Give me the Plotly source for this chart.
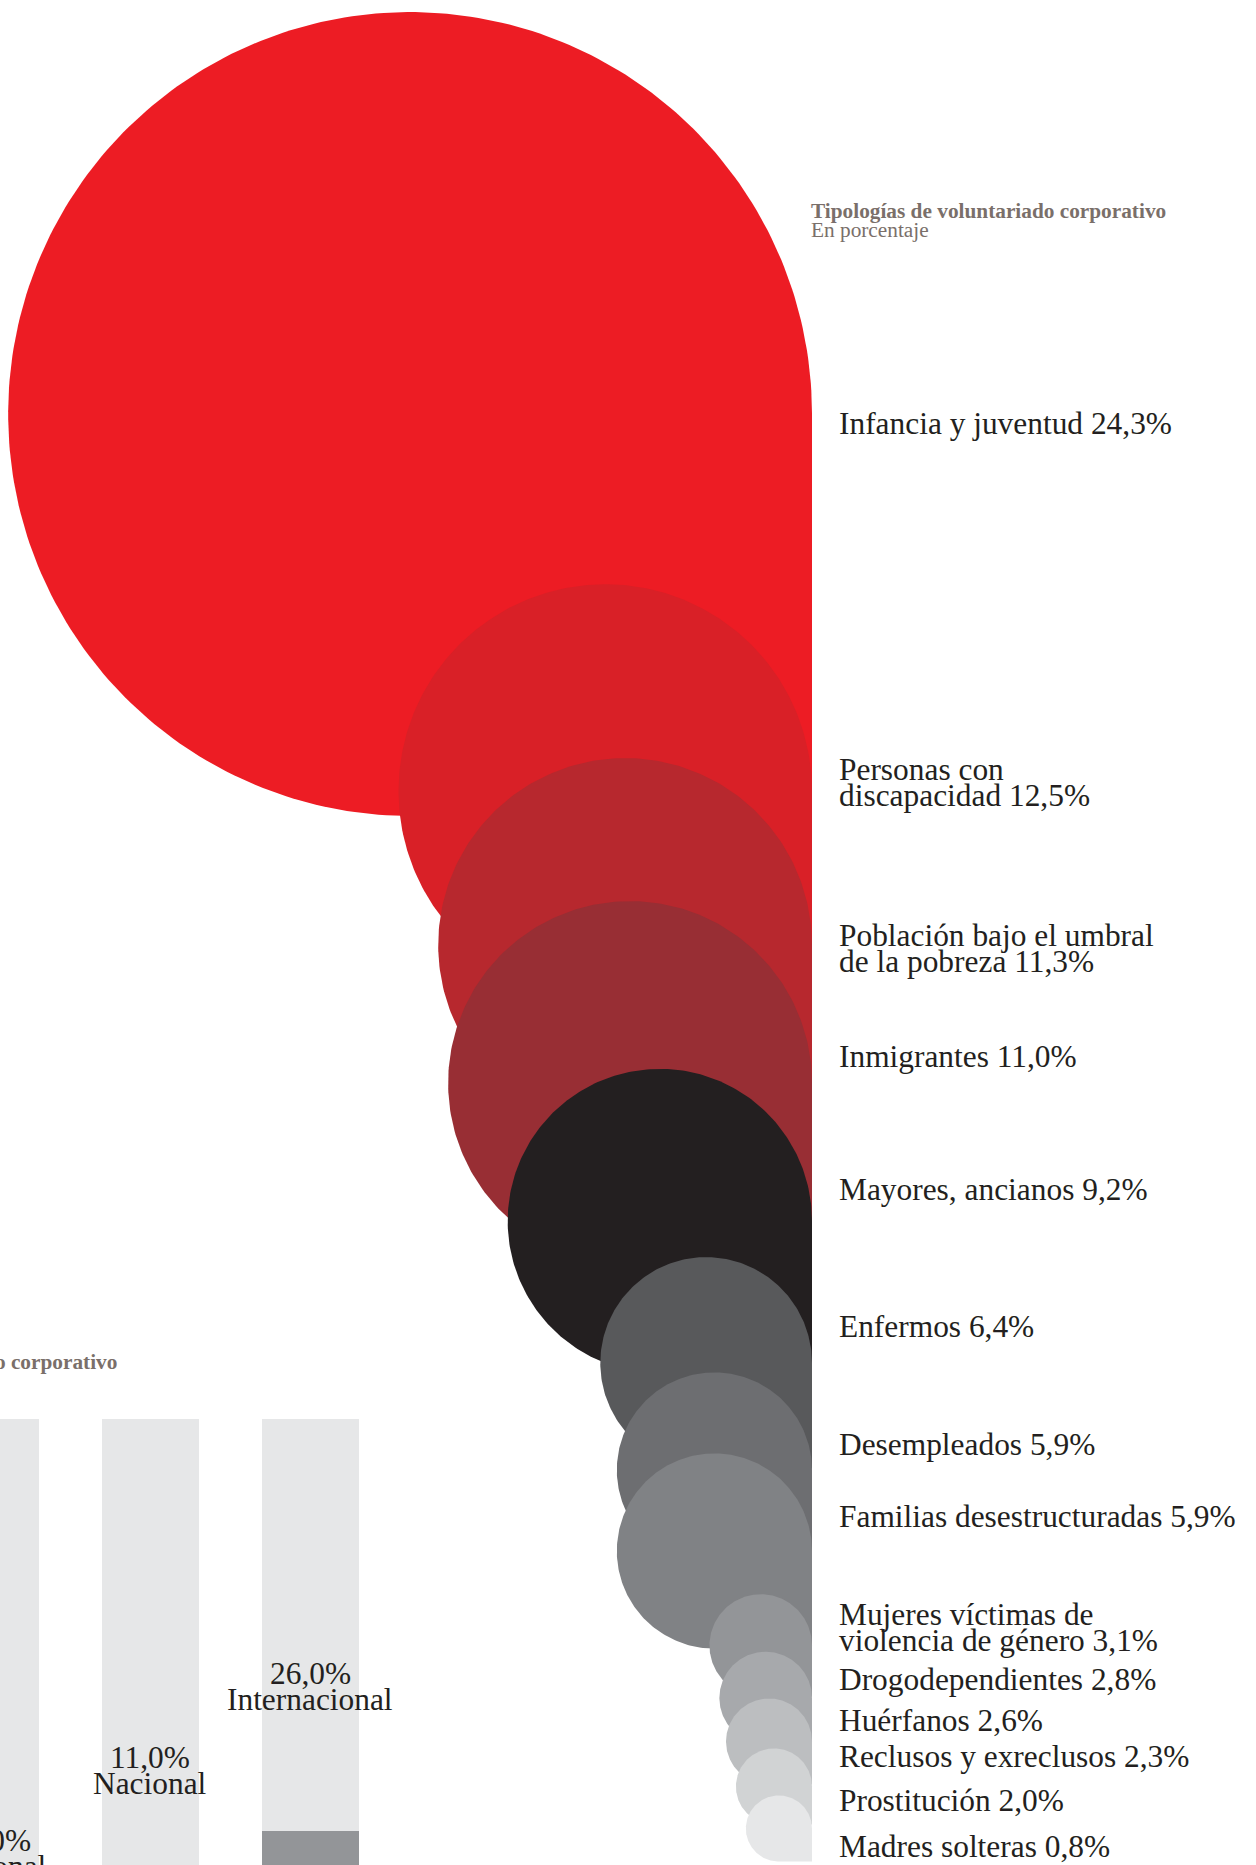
import numpy as np
import plotly.graph_objects as go

W, H = 1256, 1865
FONT = "Liberation Serif"
INK = "#231f20"
TITLE_INK = "#7a6f6a"

# ---- Tipologías de voluntariado corporativo (en porcentaje) ----
categories = [
    "Infancia y juventud",
    "Personas con|discapacidad",
    "Población bajo el umbral|de la pobreza",
    "Inmigrantes",
    "Mayores, ancianos",
    "Enfermos",
    "Desempleados",
    "Familias desestructuradas",
    "Mujeres víctimas de|violencia de género",
    "Drogodependientes",
    "Huérfanos",
    "Reclusos y exreclusos",
    "Prostitución",
    "Madres solteras",
]
shares = [24.3, 12.5, 11.3, 11.0, 9.2, 6.4, 5.9, 5.9, 3.1, 2.8, 2.6, 2.3, 2.0, 0.8]
colors = [
    "#ed1c24", "#d92027", "#b7282e", "#982e34", "#231f20", "#58595b", "#6d6e71",
    "#808285", "#939598", "#a7a9ac", "#bcbec0", "#d1d3d4", "#e6e7e8", "#e6e7e8",
]

# ---- Ámbito del voluntariado corporativo ----
scope_cats = ["Regional", "Nacional", "Internacional"]
scope_vals = [10.0, 11.0, 26.0]
scope_total = [100, 100, 100]

# ---- placement (pixels from the top of the page) ----
PX = 16.54                 # pixels per percentage point on the bubble axes
EDGE_PX = 812              # common right edge of the bubbles
LABEL_X_PX = 837
TEXT_PAD_PX = 3            # annotation box padding to compensate
bubble_y = [414, 791, 945, 1083, 1221, 1363, 1470, 1551, 1645.5, 1698, 1741.5,
            1786.5, 1828.5, 1845]
label_y = [423, 782, 948, 1056, 1189, 1326, 1444, 1516, 1627, 1679, 1720, 1756,
           1800, 1846]
LINE_PX = 26

# bar panel geometry
BAR_TOP_PX = 1419
BAR_PITCH = 160
BAR_W_PX = 97
SCOPE_X0 = 0.0594          # category index at the left page edge
SCOPE_PANEL_PX = 500
scope_label_y = [1840, 1757, 1673]


def pct(v):
    return f"{v:.1f}".replace(".", ",") + "%"


fig = go.Figure()

# bubbles: a circle whose lower-right quadrant is squared off, flush right
right = EDGE_PX / PX
theta = np.linspace(0, 1.5 * np.pi, 240)
for name, v, col, yc in zip(categories, shares, colors, bubble_y):
    cy = yc / PX
    cx = right - v
    xs = list(cx + v * np.cos(theta)) + [cx + v, cx + v]
    ys = list(cy - v * np.sin(theta)) + [cy + v, cy]
    fig.add_trace(go.Scatter(
        x=xs, y=ys, mode="lines", fill="toself", fillcolor=col,
        line=dict(width=0, color=col), hoverinfo="skip", showlegend=False,
        name=name.replace("|", " "), xaxis="x", yaxis="y",
    ))

annotations = []
for name, v, ly in zip(categories, shares, label_y):
    lines = name.split("|")
    lines[-1] = f"{lines[-1]} {pct(v)}"
    n = len(lines)
    for i, ln in enumerate(lines):
        annotations.append(dict(
            xref="x", yref="y", x=LABEL_X_PX / PX,
            y=(ly + (i - (n - 1) / 2) * LINE_PX) / PX,
            text=ln, showarrow=False, xanchor="left", yanchor="middle",
            font=dict(family=FONT, size=31.4, color=INK),
        ))

# chart title, aligned on the bubbles' right edge
title_x = (EDGE_PX - TEXT_PAD_PX) / PX
annotations += [
    dict(xref="x", yref="y", x=title_x, y=211 / PX, text="<b>Tipologías de voluntariado corporativo</b>",
         showarrow=False, xanchor="left", yanchor="middle",
         font=dict(family=FONT, size=21.3, color=TITLE_INK)),
    dict(xref="x", yref="y", x=title_x, y=230 / PX, text="En porcentaje",
         showarrow=False, xanchor="left", yanchor="middle",
         font=dict(family=FONT, size=21.3, color=TITLE_INK)),
]

# ---- bar panel (partly off the page on the left and bottom) ----
bar_width = BAR_W_PX / BAR_PITCH
fig.add_trace(go.Bar(
    x=scope_cats, y=scope_total, width=bar_width, marker=dict(color="#e6e7e8", line=dict(width=0)),
    hoverinfo="skip", showlegend=False, xaxis="x2", yaxis="y2",
))
fig.add_trace(go.Bar(
    x=scope_cats, y=scope_vals, width=bar_width, marker=dict(color="#939598", line=dict(width=0)),
    hoverinfo="skip", showlegend=False, xaxis="x2", yaxis="y2",
))

# value axis: 100 % at the top of the columns, 26 % where the dark fill starts
px_per_pt = (1831 - BAR_TOP_PX) / (100 - 26)
y2_bottom = 26 - (H - 1831) / px_per_pt

for i, (cat, v, ly) in enumerate(zip(scope_cats, scope_vals, scope_label_y)):
    xp = (i - SCOPE_X0) * BAR_PITCH / W
    for j, ln in enumerate([pct(v), cat]):
        annotations.append(dict(
            xref="paper", yref="paper", x=xp, y=1 - (ly + j * LINE_PX) / H,
            text=ln, showarrow=False, xanchor="center", yanchor="middle",
            font=dict(family=FONT, size=31.4, color=INK),
        ))

annotations.append(dict(
    xref="paper", yref="paper", x=(116 + TEXT_PAD_PX) / W, y=1 - 1362 / H,
    text="<b>Ámbito geográfico del voluntariado corporativo</b>",
    showarrow=False, xanchor="right", yanchor="middle",
    font=dict(family=FONT, size=21.3, color=TITLE_INK),
))

fig.update_layout(
    width=W, height=H, autosize=False,
    margin=dict(l=0, r=0, t=0, b=0, pad=0),
    paper_bgcolor="white", plot_bgcolor="rgba(0,0,0,0)",
    hovermode=False, showlegend=False, barmode="overlay",
    xaxis=dict(range=[0, W / PX], domain=[0, 1], visible=False, fixedrange=True),
    yaxis=dict(range=[H / PX, 0], domain=[0, 1], visible=False, fixedrange=True),
    xaxis2=dict(range=[SCOPE_X0, SCOPE_X0 + SCOPE_PANEL_PX / BAR_PITCH],
                domain=[0, SCOPE_PANEL_PX / W], anchor="y2", visible=False,
                type="category", categoryorder="array", categoryarray=scope_cats),
    yaxis2=dict(range=[y2_bottom, 100], domain=[0, (H - BAR_TOP_PX) / H],
                anchor="x2", visible=False),
    annotations=annotations,
)

fig.write_html("out.html")
